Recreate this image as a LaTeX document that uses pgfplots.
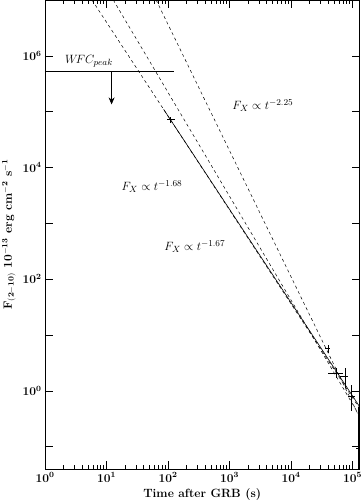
\documentclass[border=0pt]{standalone}
\usepackage{pgfplots}
\pgfplotsset{compat=1.18}
\usetikzlibrary{arrows.meta}
\begin{document}
\begin{tikzpicture}
\path[use as bounding box] (-45pt,-33pt) rectangle (318pt,469pt);
\begin{axis}[
    scale only axis,
    width=314.5pt, height=469pt,
    xmode=log, ymode=log,
    xmin=1, xmax=1.3e5,
    ymin=0.04, ymax=1e7,
    xtick={1,10,100,1000,10000,100000},
    ytick={0.1,1,10,100,1000,10000,100000,1000000},
    yticklabels={,$10^{0}$,,$10^{2}$,,$10^{4}$,,$10^{6}$},
    minor y tick style={draw=none},
    major tick length=8pt, minor tick length=4.5pt,
    tick label style={font=\fontsize{12}{14}\selectfont\bfseries\boldmath},
    axis line style={line width=0.7pt},
    every tick/.style={line width=0.6pt, black},
    xlabel={Time after GRB (s)},
    ylabel={$\mathbf{F_{(2-10)}\ 10^{-13}\ erg\ cm^{-2}\ s^{-1}}$},
    label style={font=\fontsize{12}{14}\selectfont\bfseries},
    clip=true,
]
% WFC peak upper limit
\addplot[black, line width=0.6pt] coordinates {(1,5.25e5)(125,5.25e5)};
\addplot[black, line width=0.6pt, -{Stealth[length=7pt,width=6pt]}] coordinates {(12.1,5.25e5)(12.1,1.35e5)};

% power-law fits
\addplot[black, line width=0.6pt] coordinates {(85,1.1e5)(1.28e5,0.54)};
\addplot[black, line width=0.5pt, dash pattern=on 3pt off 3pt] coordinates {(5.8,1e7)(1.28e5,0.50)};
\addplot[black, line width=0.5pt, dash pattern=on 3pt off 3pt] coordinates {(12.9,1e7)(1.28e5,0.37)};
\addplot[black, line width=0.5pt, dash pattern=on 3pt off 3pt] coordinates {(64.1,1e7)(1.28e5,0.35)};

% data points
\addplot[draw=none, mark=none,
    error bars/.cd, x dir=both, x explicit, y dir=both, y explicit, error mark=none,
    error bar style={draw=black, solid, line width=0.6pt}]
    coordinates {
    (107,7.4e4) += (22,7e3) -= (12,1.2e4)
    (4.0e4,5.8) += (3e3,0.8) -= (4.5e3,1.0)
    (5.5e4,2.07) += (1.5e4,0.53) -= (1.5e4,0.37)
    (7.6e4,1.8) += (0.9e4,0.8) -= (1.4e4,0.67)
    (9.6e4,0.79) += (1.3e4,0.49) -= (1.2e4,0.36)
    (1.22e5,0.095) += (9e3,0.425) -= (9e3,0.085)
    };

\node[font=\fontsize{13}{15}\selectfont] at (axis cs:5.2,8.1e5) {$W\!FC_{peak}$};
\node[font=\fontsize{13}{15}\selectfont] at (axis cs:3485,1.28e5) {$F_X \propto t^{-2.25}$};
\node[font=\fontsize{13}{15}\selectfont] at (axis cs:54.8,4.6e3) {$F_X \propto t^{-1.68}$};
\node[font=\fontsize{13}{15}\selectfont] at (axis cs:273,380) {$F_X \propto t^{-1.67}$};
\end{axis}
\end{tikzpicture}
\end{document}
